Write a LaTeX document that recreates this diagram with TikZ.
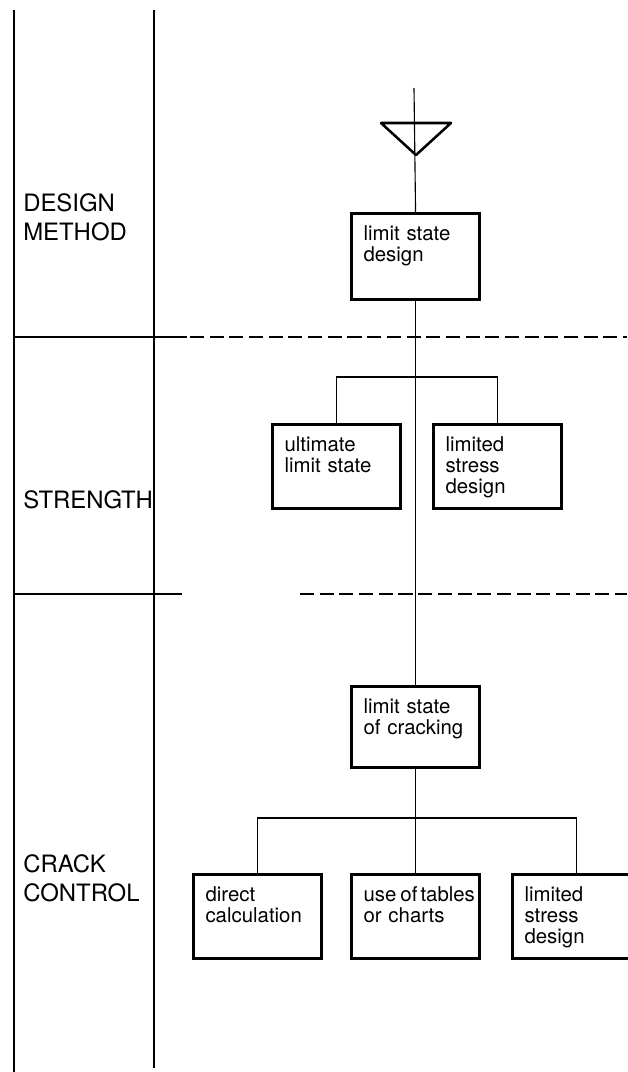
\documentclass[tikz,border=0pt]{standalone}
\usepackage{fontspec}
\setmainfont{TeX Gyre Heros}
\usetikzlibrary{positioning}
\tikzset{
decision/.style = {draw, line width = 2.2pt, anchor = north west, inner xsep = 3mm,
	inner ysep = 2mm, text width = 26mm, align = left, text height = 4.75mm,
	text depth = #1, font = \fontsize{14.5}{15}\selectfont,
	execute at begin node = {\hyphenpenalty = 10000\relax}},
decision/.default = 12.25mm,
level/.style = {anchor = base west, inner sep = 0pt, text width = 3.2cm, align = left,
	font = \fontsize{17}{21}\selectfont},
link/.style = {line width = 0.8pt},
frame/.style = {line width = 1.8pt},
divider/.style = {line width = 0.8pt, dash pattern = on 10pt off 4pt}
}

\begin{document}
\begin{tikzpicture}[x = 0.025cm, y = -0.025cm]

\useasboundingbox (0, 0) rectangle (627, 1072);

%% Frame
\draw [frame] (14, 10) -- (14, 1072);
\draw [frame, line width = 1.3pt] (154, 10) -- (154, 1068);
\draw [frame] (14, 337) -- (187, 337);
\draw [frame] (14, 594) -- (182, 594);
\draw [divider] (190, 337) -- (627, 337);
\draw [divider] (300, 594) -- (627, 594);

% Levels
\node at (23, 211) [level] (design) {DESIGN\\METHOD};
\node at (23, 508) [level] (strength) {STRENGTH};
\node at (23, 872) [level] (crack) {CRACK\\CONTROL};

%% Tree
% Boxes
\node at (350, 212) [decision = 12.75mm] (lsd) {limit state\\design};
\node at (271, 423) [decision] (uls) {ultimate\\limit state};
\node at (432, 423) [decision] (lstress) {limited\\stress\\design};
\node at (350, 685) [decision = 11.5mm] (lsc) {limit state\\of cracking};
\node at (192, 873) [decision] (direct) {direct\\calculation};
\node at (350, 873) [decision] (tables) {\mbox{use\kern.2em of\kern.15em tables}\\or charts};
\node at (511, 873) [decision] (lstress2) {limited\\stress\\design};

% Input
\coordinate (top) at (414, 88);
\draw [line width = 1.8pt, line join = round] (381, 123) -- (451, 123) -- (416, 155) -- cycle;
\path [link] (top) edge (lsd.north);

% The branches
\coordinate (fork1) at (414, 377);
\coordinate (fork2) at (414, 818);
\path [link] (lsd.south) edge (lsc.north);
\draw [link] (uls.north) |- (fork1) -| (lstress.north);
\path [link] (lsc.south) edge (tables.north);
\draw [link] (direct.north) |- (fork2) -| (lstress2.north);

\end{tikzpicture}
\end{document}
